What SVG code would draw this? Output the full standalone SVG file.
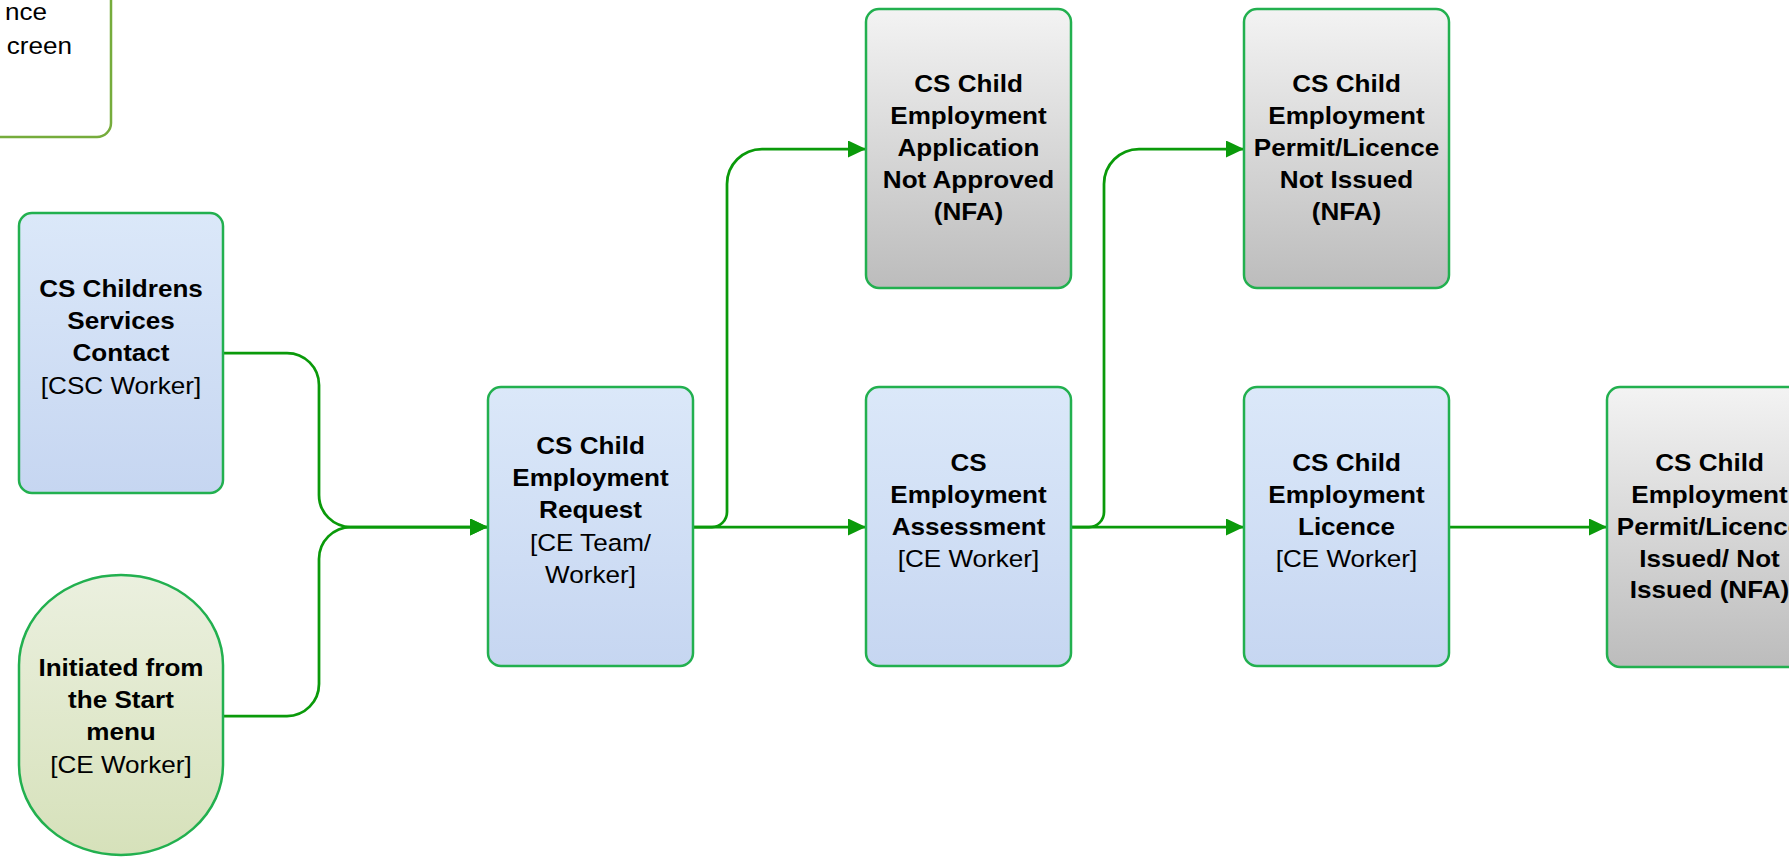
<svg xmlns="http://www.w3.org/2000/svg" width="1789" height="859" viewBox="0 0 1789 859">
<defs>
<linearGradient id="gBlue" x1="0" y1="0" x2="0" y2="1"><stop offset="0" stop-color="#dbe8f9"/><stop offset="1" stop-color="#c6d6f1"/></linearGradient>
<linearGradient id="gGray" x1="0" y1="0" x2="0" y2="1"><stop offset="0" stop-color="#f3f3f3"/><stop offset="1" stop-color="#bcbcbc"/></linearGradient>
<linearGradient id="gGreen" x1="0" y1="0" x2="0" y2="1"><stop offset="0" stop-color="#ebf0df"/><stop offset="1" stop-color="#d6e1ba"/></linearGradient>
<marker id="arr" markerUnits="userSpaceOnUse" markerWidth="19" markerHeight="18" refX="18" refY="8.5" orient="auto"><path d="M0,0 L18,8.5 L0,17 Z" fill="#0a9a0a"/></marker>
</defs>
<style>
.node{stroke:#22b04f;stroke-width:2.5}
.blue{fill:url(#gBlue)}
.gray{fill:url(#gGray)}
.green{fill:url(#gGreen)}
.t{font-family:"Liberation Sans",Arial,sans-serif;font-size:23.5px;fill:#000;text-anchor:middle}
.b{font-weight:bold}
.conn path{fill:none;stroke:#0a9a0a;stroke-width:2.75}
</style>
<rect width="1789" height="859" fill="#fff"/>

<g id="note">
<rect x="-100" y="-150" width="211" height="287" rx="14" fill="#fff" stroke="#76ac3c" stroke-width="2.5"/>
<text class="t" style="text-anchor:end" transform="translate(47,0) scale(1.11,1)"><tspan x="0" y="20">nce</tspan></text>
<text class="t" style="text-anchor:end" transform="translate(72,0) scale(1.11,1)"><tspan x="0" y="54">creen</tspan></text>
</g>

<g class="conn" id="connectors">
<path d="M223,353 H287 A32,32 0 0 1 319,385 V495 A32,32 0 0 0 351,527 H488" marker-end="url(#arr)"/>
<path d="M223,716 H287 A32,32 0 0 0 319,684 V559 A32,32 0 0 1 351,527 H488" marker-end="url(#arr)"/>
<path d="M693,527 H866" marker-end="url(#arr)"/>
<path d="M693,527 H712 A15,15 0 0 0 727,512 V184 A35,35 0 0 1 762,149 H866" marker-end="url(#arr)"/>
<path d="M1071,527 H1244" marker-end="url(#arr)"/>
<path d="M1071,527 H1089 A15,15 0 0 0 1104,512 V184 A35,35 0 0 1 1139,149 H1244" marker-end="url(#arr)"/>
<path d="M1449,527 H1607" marker-end="url(#arr)"/>
</g>

<g id="n1">
<rect class="node blue" x="19" y="213" width="204" height="280" rx="13"/>
<text class="t" transform="translate(121,0) scale(1.11,1)"><tspan class="b" x="0" y="297">CS Childrens</tspan><tspan class="b" x="0" y="329">Services</tspan><tspan class="b" x="0" y="361">Contact</tspan><tspan x="0" y="394">[CSC Worker]</tspan></text>
</g>

<g id="n2">
<rect class="node green" x="19" y="575" width="204" height="280" rx="102" ry="90"/>
<text class="t" transform="translate(121,0) scale(1.11,1)"><tspan class="b" x="0" y="676">Initiated from</tspan><tspan class="b" x="0" y="708">the Start</tspan><tspan class="b" x="0" y="740">menu</tspan><tspan x="0" y="773">[CE Worker]</tspan></text>
</g>

<g id="n3">
<rect class="node blue" x="488" y="387" width="205" height="279" rx="13"/>
<text class="t" transform="translate(590.5,0) scale(1.11,1)"><tspan class="b" x="0" y="454">CS Child</tspan><tspan class="b" x="0" y="486">Employment</tspan><tspan class="b" x="0" y="518">Request</tspan><tspan x="0" y="551">[CE Team/</tspan><tspan x="0" y="583">Worker]</tspan></text>
</g>

<g id="n4">
<rect class="node gray" x="866" y="9" width="205" height="279" rx="13"/>
<text class="t b" transform="translate(968.5,0) scale(1.11,1)"><tspan x="0" y="92">CS Child</tspan><tspan x="0" y="124">Employment</tspan><tspan x="0" y="156">Application</tspan><tspan x="0" y="188">Not Approved</tspan><tspan x="0" y="220">(NFA)</tspan></text>
</g>

<g id="n5">
<rect class="node blue" x="866" y="387" width="205" height="279" rx="13"/>
<text class="t" transform="translate(968.5,0) scale(1.11,1)"><tspan class="b" x="0" y="471">CS</tspan><tspan class="b" x="0" y="503">Employment</tspan><tspan class="b" x="0" y="535">Assessment</tspan><tspan x="0" y="567">[CE Worker]</tspan></text>
</g>

<g id="n6">
<rect class="node gray" x="1244" y="9" width="205" height="279" rx="13"/>
<text class="t b" transform="translate(1346.5,0) scale(1.11,1)"><tspan x="0" y="92">CS Child</tspan><tspan x="0" y="124">Employment</tspan><tspan x="0" y="156">Permit/Licence</tspan><tspan x="0" y="188">Not Issued</tspan><tspan x="0" y="220">(NFA)</tspan></text>
</g>

<g id="n7">
<rect class="node blue" x="1244" y="387" width="205" height="279" rx="13"/>
<text class="t" transform="translate(1346.5,0) scale(1.11,1)"><tspan class="b" x="0" y="471">CS Child</tspan><tspan class="b" x="0" y="503">Employment</tspan><tspan class="b" x="0" y="535">Licence</tspan><tspan x="0" y="567">[CE Worker]</tspan></text>
</g>

<g id="n8">
<rect class="node gray" x="1607" y="387" width="205" height="280" rx="13"/>
<text class="t b" transform="translate(1709.5,0) scale(1.11,1)"><tspan x="0" y="471">CS Child</tspan><tspan x="0" y="503">Employment</tspan><tspan x="0" y="535">Permit/Licence</tspan><tspan x="0" y="567">Issued/ Not</tspan><tspan x="0" y="598">Issued (NFA)</tspan></text>
</g>
</svg>
